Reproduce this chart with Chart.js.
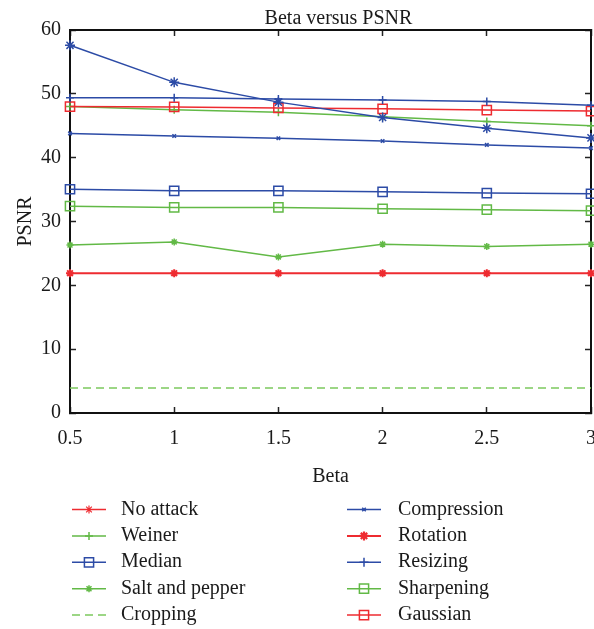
<!DOCTYPE html>
<html><head><meta charset="utf-8">
<script src="https://cdn.jsdelivr.net/npm/chart.js@4.4.1/dist/chart.umd.min.js"></script>
<style>html,body{margin:0;padding:0;background:#fff}#wrap{width:594px;height:629px}</style>
</head><body><div id="wrap"><canvas id="c" width="594" height="629"></canvas></div>
<script>
// ---- data ----
const beta = [0.5, 1, 1.5, 2, 2.5, 3];
const xTickLabels = ['0.5', '1', '1.5', '2', '2.5', '3'];
const yTickLabels = ['0', '10', '20', '30', '40', '50', '60'];
const noAttack     = [57.6, 51.8, 48.7, 46.3, 44.6, 43.1];
const weiner       = [48.0, 47.5, 47.1, 46.4, 45.65, 45.0];
const median       = [35.05, 34.8, 34.8, 34.65, 34.45, 34.35];
const saltPepper   = [26.3, 26.8, 24.45, 26.45, 26.1, 26.45];
const cropping     = [3.9, 3.9, 3.9, 3.9, 3.9, 3.9];
const compression  = [43.8, 43.4, 43.05, 42.6, 42.0, 41.5];
const rotation     = [21.9, 21.9, 21.9, 21.9, 21.9, 21.9];
const resizing     = [49.4, 49.4, 49.2, 49.05, 48.8, 48.2];
const sharpening   = [32.4, 32.2, 32.2, 32.0, 31.85, 31.7];
const gaussian     = [48.0, 47.95, 47.8, 47.65, 47.45, 47.3];
const legendCol1 = ['No attack', 'Weiner', 'Median', 'Salt and pepper', 'Cropping'];
const legendCol2 = ['Compression', 'Rotation', 'Resizing', 'Sharpening', 'Gaussian'];
const TITLE = 'Beta versus PSNR';
const X_TITLE = 'Beta';
const Y_TITLE = 'PSNR';

// ---- styles ----
const FONT = 'Liberation Serif';
const TXT = '#1a1a1a';
const BLUE = '#2c4ba6', RED = '#ee2b30', GREEN = '#62b946';

function ds(label, data, color, style, radius, pbw, extra) {
  return Object.assign({
    label, data: data.map((y, i) => ({ x: beta[i], y })),
    borderColor: color, backgroundColor: 'transparent', borderWidth: 1.5,
    pointStyle: style, pointRadius: radius, pointHoverRadius: radius,
    pointBorderColor: color, pointBackgroundColor: 'transparent', pointBorderWidth: pbw,
    tension: 0, clip: false, fill: false
  }, extra || {});
}

const datasets = [
  ds('No attack', noAttack, BLUE, 'star', 5, 1.5),
  ds('Resizing', resizing, BLUE, 'cross', 4, 1.5),
  ds('Gaussian', gaussian, RED, 'rect', 6.5, 1.5),
  ds('Weiner', weiner, GREEN, 'cross', 4, 1.5),
  ds('Compression', compression, BLUE, 'crossRot', 2.5, 1.5),
  ds('Median', median, BLUE, 'rect', 6.5, 1.5),
  ds('Sharpening', sharpening, GREEN, 'rect', 6.5, 1.5),
  ds('Salt and pepper', saltPepper, GREEN, 'star', 3.5, 1.5),
  ds('Rotation', rotation, RED, 'star', 4, 2, { borderWidth: 2 }),
  ds('Cropping', cropping, '#7cc95e', false, 0, 0, { borderDash: [8, 5], pointRadius: 0 })
];

// legend glyph styles (as drawn in the reference legend)
const legendStyles1 = [
  { color: RED, style: 'star', r: 4, lw: 1.5, pw: 1.2 },
  { color: GREEN, style: 'cross', r: 4, lw: 1.5, pw: 1.5 },
  { color: BLUE, style: 'rect', r: 6.5, lw: 1.5, pw: 1.5 },
  { color: GREEN, style: 'star', r: 3.5, lw: 1.5, pw: 1.5 },
  { color: '#7cc95e', style: null, r: 0, lw: 1.5, pw: 0, dash: [8, 5] }
];
const legendStyles2 = [
  { color: BLUE, style: 'crossRot', r: 2.5, lw: 1.5, pw: 1.5 },
  { color: RED, style: 'star', r: 4.5, lw: 2, pw: 2.2 },
  { color: BLUE, style: 'cross', r: 4.5, lw: 1.5, pw: 1.5 },
  { color: GREEN, style: 'rect', r: 6.5, lw: 1.5, pw: 1.5 },
  { color: RED, style: 'rect', r: 6.5, lw: 1.5, pw: 1.5 }
];

const deco = {
  id: 'deco',
  afterDraw(chart) {
    const ctx = chart.ctx, ca = chart.chartArea;
    ctx.save();
    ctx.font = `20px "${FONT}"`;
    ctx.fillStyle = TXT;
    ctx.textAlign = 'center';
    ctx.textBaseline = 'alphabetic';
    ctx.fillText(TITLE, (ca.left + ca.right) / 2 + 8, 24);
    const rowY0 = 509.5, rowH = 26.4;
    const cols = [{ names: legendCol1, st: legendStyles1, x0: 72, x1: 106, tx: 121 },
                  { names: legendCol2, st: legendStyles2, x0: 347, x1: 381, tx: 398 }];
    cols.forEach(col => {
      col.names.forEach((name, i) => {
        const s = col.st[i], y = rowY0 + i * rowH;
        ctx.save();
        ctx.strokeStyle = s.color;
        ctx.lineWidth = s.lw;
        ctx.setLineDash(s.dash || []);
        ctx.beginPath(); ctx.moveTo(col.x0, y); ctx.lineTo(col.x1, y); ctx.stroke();
        ctx.setLineDash([]);
        if (s.style) {
          ctx.fillStyle = 'rgba(0,0,0,0)';
          ctx.lineWidth = s.pw;
          Chart.helpers.drawPoint(ctx, { pointStyle: s.style, radius: s.r, rotation: 0, borderWidth: s.pw }, (col.x0 + col.x1) / 2, y);
        }
        ctx.restore();
        ctx.fillStyle = TXT;
        ctx.textAlign = 'left';
        ctx.textBaseline = 'alphabetic';
        ctx.fillText(name, col.tx, y + 5);
      });
    });
    ctx.restore();
  }
};

const inwardGrid = { drawOnChartArea: false, drawTicks: true, tickLength: -6, tickColor: '#222', tickWidth: 1.5, color: '#222' };
const frameBorder = { display: true, color: '#111', width: 2 };

new Chart(document.getElementById('c'), {
  type: 'line',
  data: { datasets },
  plugins: [deco],
  options: {
    responsive: false, animation: false, devicePixelRatio: 1,
    layout: { autoPadding: false, padding: { top: 30, bottom: 136, left: 0, right: 0 } },
    plugins: { legend: { display: false }, title: { display: false }, tooltip: { enabled: false } },
    scales: {
      x: {
        type: 'linear', position: 'bottom', min: 0.5, max: 3,
        ticks: { stepSize: 0.5, maxRotation: 0, autoSkip: false, padding: 20, color: TXT,
                 font: { family: FONT, size: 20 },
                 callback: v => { const i = beta.indexOf(v); return i >= 0 ? xTickLabels[i] : ''; } },
        grid: inwardGrid, border: frameBorder,
        title: { display: true, text: X_TITLE, color: TXT, font: { family: FONT, size: 20 }, padding: { top: 4, bottom: 4 } },
        afterFit: s => { s.height = 80; s.paddingLeft = 0; s.paddingRight = 0; }
      },
      x2: {
        type: 'linear', position: 'top', min: 0.5, max: 3,
        ticks: { display: false, stepSize: 0.5 },
        grid: inwardGrid, border: frameBorder,
        afterFit: s => { s.height = 0; s.paddingLeft = 0; s.paddingRight = 0; }
      },
      y: {
        type: 'linear', position: 'left', min: 0, max: 60,
        ticks: { stepSize: 10, padding: 15, color: TXT, font: { family: FONT, size: 20 },
                 callback: v => yTickLabels[Math.round(v / 10)] },
        grid: inwardGrid, border: frameBorder,
        title: { display: true, text: Y_TITLE, color: TXT, font: { family: FONT, size: 20 }, padding: { top: 14, bottom: 0 } },
        afterFit: s => { s.width = 70; s.paddingTop = 0; s.paddingBottom = 0; }
      },
      y2: {
        type: 'linear', position: 'right', min: 0, max: 60,
        ticks: { display: false, stepSize: 10 },
        grid: inwardGrid, border: frameBorder,
        afterFit: s => { s.width = 3; s.paddingTop = 0; s.paddingBottom = 0; }
      }
    }
  }
});
</script>
</body></html>
